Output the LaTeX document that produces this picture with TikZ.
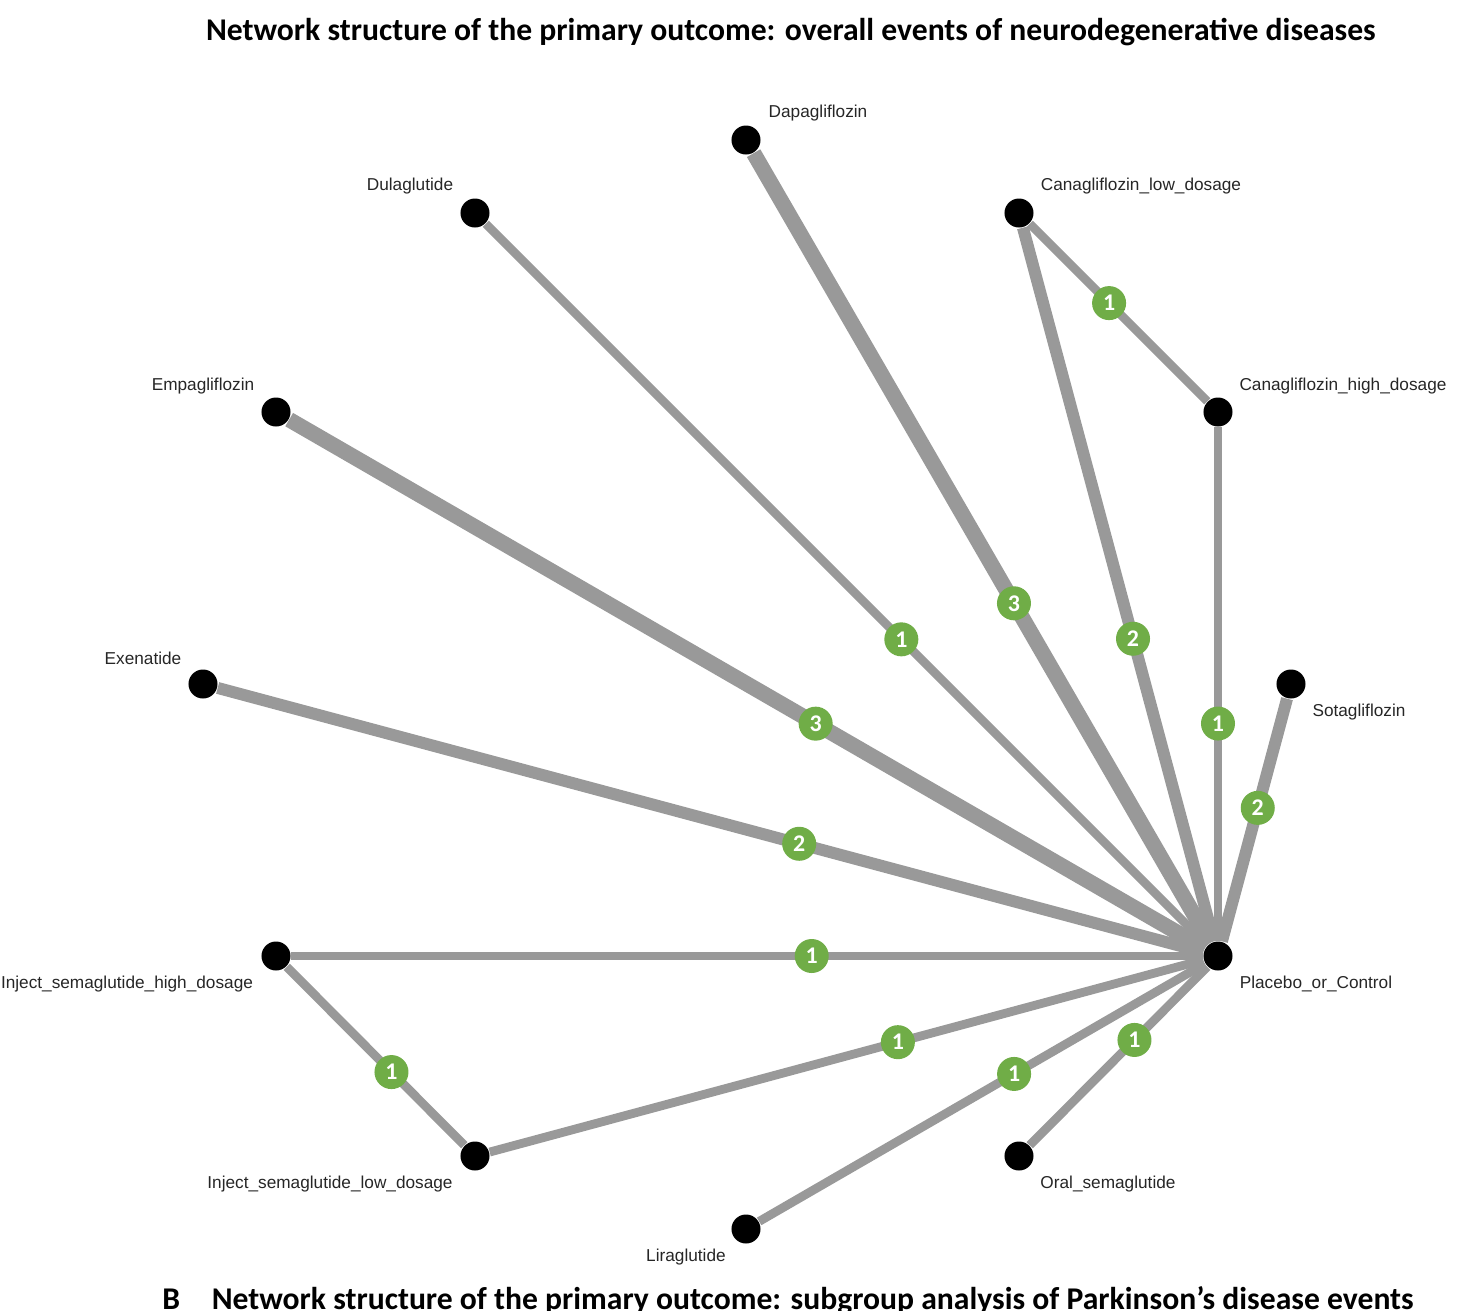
\documentclass[tikz,border=0pt]{standalone}
\usepackage{fontspec}
\setmainfont{Liberation Sans}
\newfontfamily\titlefont{Carlito}
\begin{document}
\begin{tikzpicture}[x=0.01cm,y=-0.01cm,line cap=butt,
  dot/.style={circle,fill=black,inner sep=0,minimum size=0.29cm},
  lbl/.style={font=\fontsize{4.9pt}{5.5pt}\selectfont,text=black!85},
  edge/.style={draw=black!40},
  num/.style={circle,fill={rgb,255:red,112;green,173;blue,71},inner sep=0,minimum size=0.34cm,text=white,font=\titlefont\bfseries\fontsize{6.8pt}{6.8pt}\selectfont}]

% parameters
\def\wa{2.5pt}   % one study
\def\wb{3.4pt}   % two studies
\def\wc{4.4pt}   % three studies

\useasboundingbox (0,0) rectangle (1462,1311);

% titles
\node[font=\titlefont\bfseries\fontsize{9pt}{10pt}\selectfont] (title) at (791,32) {Network structure of the primary outcome: overall events of neurodegenerative diseases};
\node[font=\titlefont\bfseries\fontsize{9pt}{10pt}\selectfont,anchor=west] (titleB) at (150,1301) {B\quad Network structure of the primary outcome: subgroup analysis of Parkinson’s disease events};

% treatments
\node[dot] (dapa) at (746,140) {};
\node[dot] (dula) at (475,213) {};
\node[dot] (canl) at (1019,213) {};
\node[dot] (canh) at (1218,412) {};
\node[dot] (empa) at (276,412) {};
\node[dot] (exen) at (203,684) {};
\node[dot] (sota) at (1291,684) {};
\node[dot] (plc)  at (1218,956) {};
\node[dot] (injh) at (276,956) {};
\node[dot] (injl) at (475,1156) {};
\node[dot] (oral) at (1019,1156) {};
\node[dot] (lira) at (746,1229) {};

% treatment names
\node[lbl] (dapat) at (818,113) {Dapagliflozin};
\node[lbl] (dulat) at (410,186) {Dulaglutide};
\node[lbl] (canlt) at (1141,186) {Canagliflozin\_low\_dosage};
\node[lbl] (canht) at (1343,386) {Canagliflozin\_high\_dosage};
\node[lbl] (empat) at (203,386) {Empagliflozin};
\node[lbl] (exent) at (143,658) {Exenatide};
\node[lbl] (sotat) at (1359,712) {Sotagliflozin};
\node[lbl] (plct)  at (1316,984) {Placebo\_or\_Control};
\node[lbl] (injht) at (127,984) {Inject\_semaglutide\_high\_dosage};
\node[lbl] (injlt) at (330,1184) {Inject\_semaglutide\_low\_dosage};
\node[lbl] (oralt) at (1108,1184) {Oral\_semaglutide};
\node[lbl] (lirat) at (686,1257) {Liraglutide};

% comparisons
\draw[edge,line width=\wc] (dapa) -- node[num,pos=.57]{3} (plc);
\draw[edge,line width=\wa] (dula) -- node[num,pos=.576]{1} (plc);
\draw[edge,line width=\wc] (empa) -- node[num,pos=.575]{3} (plc);
\draw[edge,line width=\wb] (exen) -- node[num,pos=.59]{2} (plc);
\draw[edge,line width=\wa] (injh) -- node[num,pos=.571]{1} (plc);
\draw[edge,line width=\wa] (injl) -- node[num,pos=.572]{1} (plc);
\draw[edge,line width=\wa] (lira) -- node[num,pos=.572]{1} (plc);
\draw[edge,line width=\wa] (oral) -- node[num,pos=.59]{1} (plc);
\draw[edge,line width=\wb] (sota) -- node[num,pos=.45]{2} (plc);
\draw[edge,line width=\wa] (canh) -- node[num,pos=.577]{1} (plc);
\draw[edge,line width=\wb] (canl) -- node[num,pos=.576]{2} (plc);
\draw[edge,line width=\wa] (canl) -- node[num,pos=.447]{1} (canh);
\draw[edge,line width=\wa] (injh) -- node[num,pos=.59]{1} (injl);

\end{tikzpicture}
\end{document}
